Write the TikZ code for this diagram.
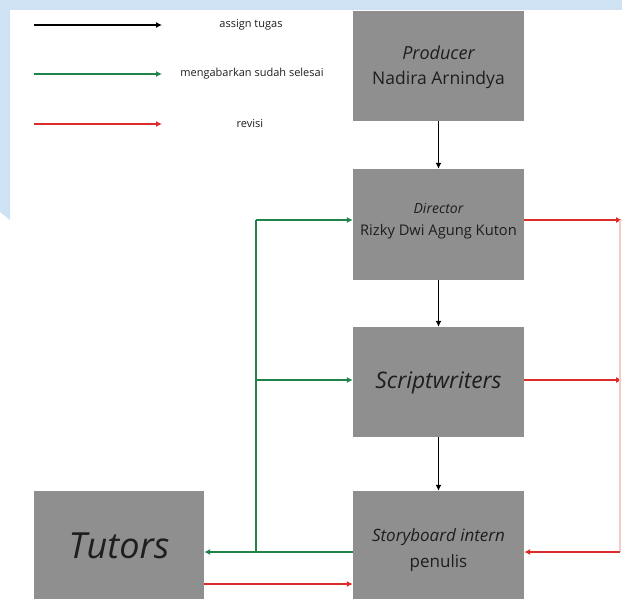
\documentclass[tikz,border=0pt]{standalone}
\usepackage{fontspec}
\setmainfont{Open Sans}
\usepackage{xcolor}
\usetikzlibrary{arrows.meta}

\definecolor{bgblue}{HTML}{CFE2F3}
\definecolor{boxgray}{HTML}{8F8F8F}
\definecolor{txtdark}{HTML}{1E1E1E}
\definecolor{donegreen}{HTML}{1E8449}
\definecolor{revred}{HTML}{DD2C2C}

\tikzset{
	>={Latex[length=6pt,width=6pt]},
	role/.style={fill=boxgray, minimum width=171pt, inner sep=0pt},
	roletext/.style={text=txtdark, align=center, inner sep=0pt},
	legendtext/.style={text=txtdark, font=\fontsize{11}{13}\selectfont, anchor=center},
	assign/.style={->, line width=1.8pt, black},
	done/.style={->, line width=1.8pt, donegreen},
	revise/.style={->, line width=1.8pt, revred}
}

\begin{document}
\begin{tikzpicture}[x=1pt, y=-1pt]
		% Page and background bands
		\clip (0,0) rectangle (622,598);
		\fill[white] (0,0) rectangle (622,598);
		\fill[bgblue] (0,0) rectangle (622,10);
		\fill[bgblue] (0,0) -- (10,0) -- (10,220) -- (0,212) -- cycle;
		
		% Legend
		\coordinate (la1) at (34,25);
		\coordinate (la2) at (162,25);
		\coordinate (lg1) at (34,74);
		\coordinate (lg2) at (162,74);
		\coordinate (lr1) at (34,124);
		\coordinate (lr2) at (162,124);
		\draw[assign] (la1) -- (la2);
		\draw[done] (lg1) -- (lg2);
		\draw[revise] (lr1) -- (lr2);
		\node[legendtext] (lassign) at (251,25) {assign tugas};
		\node[legendtext] (ldone) at (252,74) {mengabarkan sudah selesai};
		\node[legendtext] (lrevise) at (250,124) {revisi};
		
		% Boxes
		\node[role, minimum height=110pt] (prod) at (438.5,66) {};
		\node[role, minimum height=111pt] (dir) at (438.5,224.5) {};
		\node[role, minimum height=110pt] (scr) at (438.5,382) {};
		\node[role, minimum height=122pt] (story) at (438.5,552) {};
		\node[role, minimum width=170pt, minimum height=122pt] (tut) at (119,552) {};
		
		% Box texts
		\node[roletext, font=\fontsize{17.5}{25}\selectfont] (prodtext) at (438.5,67.5)
			{{\fontsize{18}{25}\selectfont\itshape Producer}\\Nadira Arnindya};
		\node[roletext, font=\fontsize{14.7}{22}\selectfont] (dirtext) at (438.5,221)
			{{\fontsize{14}{22}\selectfont\itshape Director}\\Rizky Dwi Agung Kuton};
		\node[roletext, font=\fontsize{22.8}{26}\selectfont\itshape] (scrtext) at (438.5,383)
			{Scriptwriters};
		\node[roletext, font=\fontsize{17}{26}\selectfont] (storytext) at (438.5,550)
			{{\itshape Storyboard intern}\\penulis};
		\node[roletext, font=\fontsize{36}{40}\selectfont\itshape] (tuttext) at (119,546)
			{Tutors};
		
		% Assign chain
		\draw[assign] (prod) -- (dir);
		\draw[assign] (dir) -- (scr);
		\draw[assign] (scr) -- (story);
		
		% Reports back (green)
		\coordinate (gtop) at (256,220);
		\coordinate (gmid) at (256,380);
		\coordinate (gbot) at (256,552);
		\draw[line width=1.8pt, donegreen] (gtop) -- (gbot);
		\draw[done] (gtop) -- ([yshift=4.5pt]dir.west);
		\draw[done] (gmid) -- ([yshift=2pt]scr.west);
		\draw[done] (story.west) -- (tut.east);
		
		% Revisions (red)
		\coordinate (rtop) at (622,220);
		\coordinate (rmid) at (622,380);
		\coordinate (rbot) at (620,552);
		\draw[revise] ([yshift=4.5pt]dir.east) -- (rtop);
		\draw[revise] ([yshift=2pt]scr.east) -- (rmid);
		\draw[line width=1.2pt, revred!25] (620,220) -- (rbot);
		\draw[revise] (rbot) -- (story.east);
		\draw[revise] ([yshift=-32pt]tut.east) -- ([yshift=-32pt]story.west);
	\end{tikzpicture}
\end{document}
